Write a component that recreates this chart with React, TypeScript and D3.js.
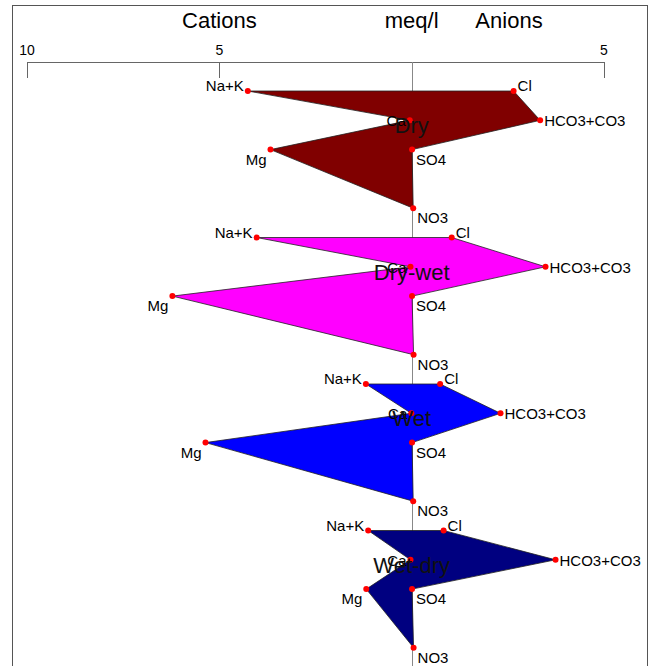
import React, { useEffect, useRef } from "react";
import * as d3 from "d3";

const groups = ["Dry", "Dry-wet", "Wet", "Wet-dry"];
const groupColors = ["#800000", "#ff00ff", "#0000ff", "#000080"];
const cationNames = ["Na+K", "Ca", "Mg"];
const anionNames = ["Cl", "HCO3+CO3", "SO4", "NO3"];
// slot of each ion inside a group (slot 3 is empty)
const cationSlots = [0, 1, 2];
const anionSlots = [0, 1, 2, 4];
// meq/l
const cationValues = [
  [4.26, 0.05, 3.67],
  [4.03, 0.03, 6.22],
  [1.19, 0.01, 5.36],
  [1.13, 0.03, 1.18],
];
const anionValues = [
  [2.65, 3.34, 0.01, 0.04],
  [1.04, 3.48, 0.01, 0.05],
  [0.74, 2.31, 0.01, 0.04],
  [0.83, 3.74, 0.01, 0.05],
];
const tickValues = [-10, -5, 5];

const W = 652;
const H = 666;
const SLOTS = 5;

const App = () => {
  const svgRef = useRef<SVGSVGElement>(null);

  useEffect(() => {
    const svg = d3.select(svgRef.current);
    svg.selectAll("*").remove();
    const font = "Liberation Sans, Arial, sans-serif";

    const x = d3.scaleLinear().domain([-10, 5]).range([27, 604]);
    const y = d3.scaleLinear().domain([0, groups.length * SLOTS - 1]).range([91, 647.7]);
    const axisY = 62;

    // frame
    svg.append("rect")
      .attr("x", 12.5).attr("y", 5.5)
      .attr("width", 635).attr("height", 720)
      .attr("fill", "none").attr("stroke", "#555").attr("stroke-width", 1);

    // headers
    const head = svg.append("g").attr("font-family", font).attr("font-size", 22)
      .attr("text-anchor", "middle").attr("fill", "#000");
    head.append("text").attr("x", x(-5)).attr("y", 28).text("Cations");
    head.append("text").attr("x", x(0)).attr("y", 28).text("meq/l");
    head.append("text").attr("x", 509).attr("y", 28).text("Anions");

    // axis
    svg.append("line")
      .attr("x1", x(-10)).attr("x2", x(5))
      .attr("y1", axisY + 0.5).attr("y2", axisY + 0.5)
      .attr("stroke", "#666");
    svg.selectAll(".tick")
      .data(tickValues)
      .join("line")
      .attr("x1", d => Math.round(x(d)) + 0.5).attr("x2", d => Math.round(x(d)) + 0.5)
      .attr("y1", axisY).attr("y2", axisY + 16)
      .attr("stroke", "#666");
    svg.selectAll(".ticklabel")
      .data(tickValues)
      .join("text")
      .attr("x", d => x(d)).attr("y", 55)
      .attr("text-anchor", "middle")
      .attr("font-family", font).attr("font-size", 14)
      .text(d => Math.abs(d));

    // center line
    svg.append("line")
      .attr("x1", Math.round(x(0)) + 0.5).attr("x2", Math.round(x(0)) + 0.5)
      .attr("y1", axisY).attr("y2", H)
      .attr("stroke", "#888");

    groups.forEach((name, g) => {
      const off = g * SLOTS;
      const left = cationValues[g].map((v, i) => ({
        px: x(-v), py: y(off + cationSlots[i]), label: cationNames[i], slot: cationSlots[i], side: "L",
      }));
      const right = anionValues[g].map((v, i) => ({
        px: x(v), py: y(off + anionSlots[i]), label: anionNames[i], slot: anionSlots[i], side: "R",
      }));
      const pts = [...left, ...right.slice().reverse()];

      svg.append("path")
        .attr("d", d3.line<any>().x(d => d.px).y(d => d.py)(pts) + "Z")
        .attr("fill", groupColors[g])
        .attr("stroke", "#222")
        .attr("stroke-width", 0.8);

      const all = [...left, ...right];
      svg.append("g").selectAll("text")
        .data(all)
        .join("text")
        .attr("x", d => d.side === "L" ? d.px - 4 : d.px + 4)
        .attr("y", d => d.py + (d.slot === 0 ? 0 : d.slot === 1 ? 6 : 15))
        .attr("text-anchor", d => d.side === "L" ? "end" : "start")
        .attr("font-family", font).attr("font-size", 15)
        .text(d => d.label);

      svg.append("g").selectAll("circle")
        .data(all)
        .join("circle")
        .attr("cx", d => d.px).attr("cy", d => d.py)
        .attr("r", 3).attr("fill", "#ff0000");

      svg.append("text")
        .attr("x", x(0)).attr("y", y(off + 1) + 13)
        .attr("text-anchor", "middle")
        .attr("font-family", font).attr("font-size", 22)
        .attr("fill", "#111")
        .text(name);
    });
  }, []);

  return (
    <svg ref={svgRef} width={W} height={H}
      style={{ position: "absolute", left: 0, top: 0, background: "#fff" }} />
  );
};

export default App;
